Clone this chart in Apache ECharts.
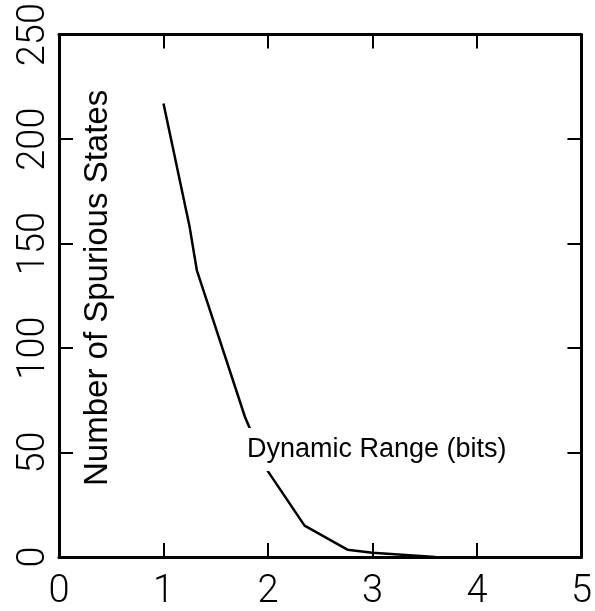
<!DOCTYPE html>
<html>
<head>
<meta charset="utf-8">
<script src="https://cdn.jsdelivr.net/npm/echarts@6/dist/echarts.min.js"></script>
<style>
  html, body { margin: 0; padding: 0; background: #fff; }
  #chart { width: 595px; height: 611px; }
</style>
</head>
<body>
<div id="chart"></div>
<script>
// data
var rangeBits = [1.0, 1.25, 1.32, 1.78, 2.0, 2.35, 2.76, 3.0, 3.6];
var spurious = [217, 158, 137, 67, 41, 15, 3.5, 2, 0];
var xTicks = [0, 1, 2, 3, 4, 5];
var yTicks = [0, 50, 100, 150, 200, 250];

var xName = 'Dynamic Range (bits)';
var yName = 'Number of Spurious States';

var points = rangeBits.map(function (x, i) { return [x, spurious[i]]; });

var tickFont = { fontFamily: 'Roboto', fontWeight: 300, fontSize: 38, color: '#000' };
var lineStyle = { color: '#000', width: 3 };
var tickStyle = { show: true, inside: true, length: 14, lineStyle: { color: '#000', width: 2 } };

var myChart = echarts.init(document.getElementById('chart'));
myChart.setOption({
    backgroundColor: '#fff',
    animation: false,
    grid: { left: 59, right: 11, top: 31, bottom: 52 },
    xAxis: [
        {
            type: 'value', min: xTicks[0], max: xTicks[xTicks.length - 1], interval: 1,
            axisLine: { show: true, onZero: false, lineStyle: lineStyle },
            axisTick: tickStyle,
            axisLabel: Object.assign({ margin: 16 }, tickFont),
            splitLine: { show: false }
        },
        {
            type: 'value', position: 'top', min: xTicks[0], max: xTicks[xTicks.length - 1], interval: 1,
            axisLine: { show: true, onZero: false, lineStyle: lineStyle },
            axisTick: tickStyle,
            axisLabel: { show: false },
            splitLine: { show: false }
        }
    ],
    yAxis: [
        {
            type: 'value', min: yTicks[0], max: yTicks[yTicks.length - 1], interval: 50,
            axisLine: { show: true, onZero: false, lineStyle: lineStyle },
            axisTick: tickStyle,
            axisLabel: Object.assign({ margin: 6, rotate: 90 }, tickFont),
            splitLine: { show: false }
        },
        {
            type: 'value', position: 'right', min: yTicks[0], max: yTicks[yTicks.length - 1], interval: 50,
            axisLine: { show: true, onZero: false, lineStyle: lineStyle },
            axisTick: tickStyle,
            axisLabel: { show: false },
            splitLine: { show: false }
        }
    ],
    graphic: [
        {
            type: 'text', z: 100, left: 243, top: 428,
            style: {
                text: xName, fontFamily: 'Liberation Sans', fontSize: 27, fill: '#000',
                backgroundColor: '#fff', padding: [8, 4, 8, 4]
            }
        },
        {
            type: 'text', z: 100, x: 81, y: 486, rotation: Math.PI / 2,
            style: {
                text: yName, fontFamily: 'Liberation Sans', fontSize: 33, fill: '#000',
                textVerticalAlign: 'top'
            }
        }
    ],
    series: [
        {
            type: 'line',
            data: points,
            showSymbol: false,
            smooth: false,
            lineStyle: { color: '#000', width: 2.5 },
            z: 3
        }
    ]
});
</script>
</body>
</html>
